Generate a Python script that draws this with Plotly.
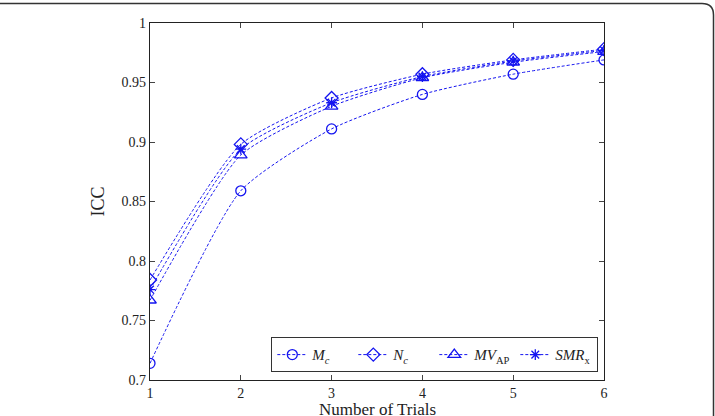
import plotly.graph_objects as go

trials = [1, 2, 3, 4, 5, 6]
mc = [0.714, 0.859, 0.911, 0.940, 0.957, 0.969]
nc = [0.784, 0.898, 0.937, 0.957, 0.969, 0.978]
mv_ap = [0.767, 0.889, 0.930, 0.954, 0.967, 0.976]
smr_x = [0.776, 0.894, 0.933, 0.955, 0.968, 0.977]

series_names = ["<i>M<sub>c</sub></i>", "<i>N<sub>c</sub></i>",
                "<i>MV</i><sub>AP</sub>", "<i>SMR</i><sub>x</sub>"]
y_ticks = [0.7, 0.75, 0.8, 0.85, 0.9, 0.95, 1]
y_tick_text = ["0.7", "0.75", "0.8", "0.85", "0.9", "0.95", "1"]
x_ticks = [1, 2, 3, 4, 5, 6]
x_title = "Number of Trials"

blue = "rgb(20,20,240)"
symbols = ["circle-open", "diamond-open", "triangle-up-open", "asterisk-open"]
sizes = [10, 10, 11, 9]

fig = go.Figure()
for name, vals, sym, sz in zip(series_names, [mc, nc, mv_ap, smr_x], symbols, sizes):
    fig.add_trace(go.Scatter(
        x=trials, y=vals, name=name, mode="lines+markers",
        line=dict(color=blue, width=1, dash="3px,2px", shape="spline", smoothing=0.6),
        marker=dict(symbol=sym, size=sz, color=blue, line=dict(color=blue, width=1.3)),
    ))

L, R, T, B = 150, 111, 23, 36
W, H = 715, 416
pw, ph = W - L - R, H - T - B

def px(x):
    return (x - L) / pw

def py(y):
    return (H - B - y) / ph

frame_path = (f"M {px(-5)},{py(3.5)} L {px(702)},{py(3.5)} "
              f"Q {px(713.5)},{py(3.5)} {px(713.5)},{py(15)} L {px(713.5)},{py(420)}")

fig.update_layout(
    width=W, height=H,
    margin=dict(l=L, r=R, t=T, b=B, autoexpand=False),
    paper_bgcolor="white", plot_bgcolor="white",
    font=dict(family="Liberation Serif, Times New Roman, serif", size=14, color="#222"),
    xaxis=dict(range=[1, 6], tickvals=x_ticks, ticks="inside", ticklen=5,
               showline=True, linecolor="#222", linewidth=1.2, mirror="ticks",
               showgrid=False, zeroline=False, automargin=False),
    yaxis=dict(range=[0.7, 1], tickvals=y_ticks, ticktext=y_tick_text, ticks="inside",
               ticklen=5, showline=True, linecolor="#222", linewidth=1.2, mirror="ticks",
               showgrid=False, zeroline=False, automargin=False,
               title=dict(text="ICC", font=dict(size=18), standoff=12)),
    legend=dict(orientation="h", x=0.987, y=0.022, xanchor="right", yanchor="bottom",
                bgcolor="white", bordercolor="#333", borderwidth=1.2,
                font=dict(size=15), itemwidth=30, entrywidth=36, tracegroupgap=0),
    annotations=[dict(text=x_title, x=0.5, y=py(399), xref="paper", yref="paper",
                      xanchor="center", yanchor="top", showarrow=False, borderpad=0,
                      font=dict(size=17))],
    shapes=[dict(type="path", path=frame_path, xref="paper", yref="paper",
                 line=dict(color="#333", width=1.5), layer="above")],
    showlegend=True,
)

fig.write_html("out.html")
